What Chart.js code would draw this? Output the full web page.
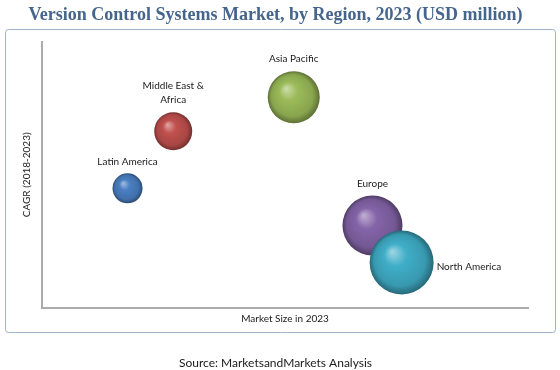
<!DOCTYPE html>
<html>
<head>
<meta charset="utf-8">
<script src="https://cdn.jsdelivr.net/npm/chart.js@4"></script>
<style>
  html, body { margin: 0; padding: 0; background: #fff; }
  #wrap { width: 560px; height: 370px; }
</style>
</head>
<body>
<div id="wrap"><canvas id="chart" width="560" height="370"></canvas></div>
<script>
// данные
const regions = ['Latin America', 'Middle East & Africa', 'Asia Pacific', 'Europe', 'North America'];
const marketSize = [17.6, 27.0, 51.8, 68.0, 74.0];   // ось X (условные единицы)
const cagr = [44.9, 66.4, 79.2, 30.9, 17.0];         // ось Y (условные единицы)
const bubbleSize = [15, 19, 26, 30, 32];             // радиус пузыря

// оформление
const baseColors = ['#4a7fc2', '#c0504d', '#9bbb59', '#8464a8', '#40aec8'];
const labelPlace = ['top', 'top', 'top', 'top', 'right'];

function shade(hex, amt) {
    const n = parseInt(hex.slice(1), 16);
    let r = (n >> 16) & 255, g = (n >> 8) & 255, b = n & 255;
    if (amt >= 0) {
        r += (255 - r) * amt; g += (255 - g) * amt; b += (255 - b) * amt;
    } else {
        r *= 1 + amt; g *= 1 + amt; b *= 1 + amt;
    }
    return `rgb(${Math.round(r)}, ${Math.round(g)}, ${Math.round(b)})`;
}

function sphereFill(ctx) {
    const chart = ctx.chart;
    const base = baseColors[ctx.dataIndex];
    if (!chart.chartArea || !ctx.raw) return base;
    const cx = chart.scales.x.getPixelForValue(ctx.raw.x);
    const cy = chart.scales.y.getPixelForValue(ctx.raw.y);
    const r = ctx.raw.r;
    const g = chart.ctx.createRadialGradient(cx - r * 0.3, cy - r * 0.35, 0, cx, cy, r);
    g.addColorStop(0, shade(base, 0.5));
    g.addColorStop(0.35, base);
    g.addColorStop(0.8, shade(base, -0.12));
    g.addColorStop(1, shade(base, -0.4));
    return g;
}

// рамка вокруг графика
const frame = {
    id: 'frame',
    beforeDraw(chart) {
        const c = chart.ctx;
        c.save();
        c.fillStyle = '#fff';
        c.fillRect(0, 0, chart.width, chart.height);
        c.strokeStyle = '#9fb3c8';
        c.lineWidth = 1;
        c.beginPath();
        c.roundRect(5.5, 29.5, 550, 303, 3);
        c.stroke();
        c.restore();
    }
};

// подписи регионов
const bubbleLabels = {
    id: 'bubbleLabels',
    afterDatasetsDraw(chart) {
        const c = chart.ctx;
        const meta = chart.getDatasetMeta(0);
        c.save();
        c.font = '10px Lato';
        c.fillStyle = '#1a1a1a';
        meta.data.forEach((el, i) => {
            const r = el.options.radius;
            const name = regions[i];
            if (labelPlace[i] === 'right') {
                c.textAlign = 'left';
                c.textBaseline = 'middle';
                c.fillText(name, el.x + r + 3, el.y + 4);
                return;
            }
            c.textAlign = 'center';
            c.textBaseline = 'middle';
            const lines = name.length > 16 ? ['Middle East &', 'Africa'] : [name];
            let y = el.y - r - 12;
            for (let k = lines.length - 1; k >= 0; k--) {
                c.fillText(lines[k], el.x, y);
                y -= 14;
            }
        });
        c.restore();
    }
};

const points = regions.map((_, i) => ({ x: marketSize[i], y: cagr[i], r: bubbleSize[i] }));

new Chart(document.getElementById('chart'), {
    type: 'bubble',
    data: {
        datasets: [{
            label: 'Regions',
            data: points,
            backgroundColor: sphereFill,
            borderWidth: 0,
            hoverBorderWidth: 0
        }]
    },
    options: {
        responsive: false,
        animation: false,
        layout: { padding: { left: 21, right: 30, top: 0, bottom: 0 } },
        font: { family: 'Lato' },
        plugins: {
            legend: { display: false },
            tooltip: { enabled: false },
            title: {
                display: true,
                text: 'Version Control Systems Market, by Region, 2023 (USD million)',
                color: '#46658c',
                font: { family: 'Liberation Serif', size: 18, weight: 'bold' },
                padding: { top: 5, bottom: 15.4 }
            },
            subtitle: {
                display: true,
                position: 'bottom',
                text: 'Source: MarketsandMarkets Analysis',
                color: '#1a1a1a',
                font: { family: 'Lato', size: 12 },
                padding: { top: 31, bottom: 0 }
            }
        },
        scales: {
            x: {
                min: 0, max: 100,
                ticks: { display: false },
                grid: { display: false, drawTicks: false },
                border: { display: true, color: '#ababab', width: 2 },
                title: {
                    display: true, text: 'Market Size in 2023', color: '#1a1a1a',
                    font: { family: 'Lato', size: 10 }, padding: { top: 5, bottom: 0 }
                }
            },
            y: {
                min: 0, max: 100,
                ticks: { display: false },
                grid: { display: false, drawTicks: false },
                border: { display: true, color: '#ababab', width: 2 },
                title: {
                    display: true, text: 'CAGR (2018-2023)', color: '#1a1a1a',
                    font: { family: 'Lato', size: 10 }, padding: { top: 0, bottom: 9 }
                }
            }
        }
    },
    plugins: [frame, bubbleLabels]
});
</script>
</body>
</html>
